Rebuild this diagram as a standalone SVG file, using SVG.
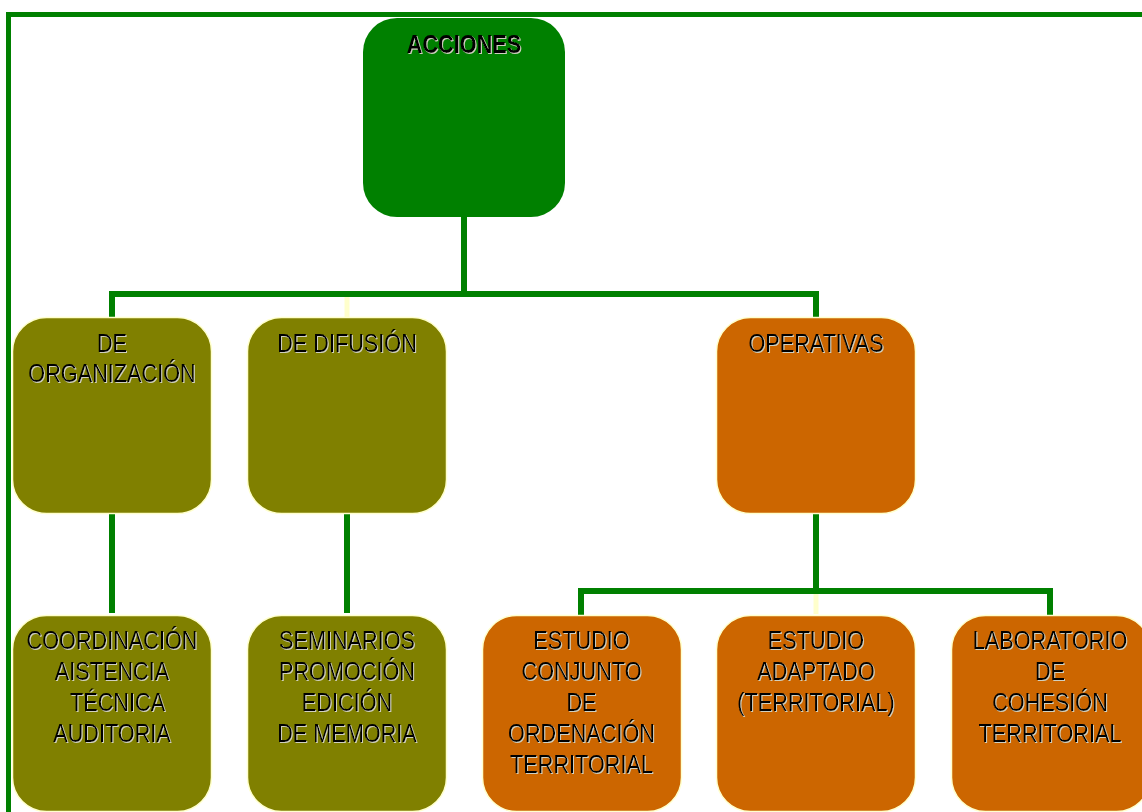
<svg xmlns="http://www.w3.org/2000/svg" width="1142" height="812" viewBox="0 0 1142 812">
<defs>
<style>
.frame{stroke:#008000;stroke-width:5;fill:none}
.conn{stroke:#008000;stroke-width:6;fill:none;stroke-linecap:butt;stroke-linejoin:miter}
.faint{stroke:#ffffcc;stroke-width:5;fill:none}
.green{fill:#008000}
.olive{fill:#808000;stroke:#ffffcc;stroke-width:1.5}
.orange{fill:#cc6600;stroke:#ffffcc;stroke-width:1.5}
text{font-family:"Liberation Sans",Arial,sans-serif;font-size:25.5px;fill:#000;text-anchor:middle;filter:url(#sh)}
.b{font-weight:bold}
</style>
<filter id="sh" x="-10%" y="-20%" width="120%" height="140%">
<feFlood flood-color="#d0d0c0" result="c"/>
<feComposite in="c" in2="SourceAlpha" operator="in" result="s"/>
<feOffset in="s" dx="1.2" dy="1.2" result="o"/>
<feMerge><feMergeNode in="o"/><feMergeNode in="SourceGraphic"/></feMerge>
</filter>
</defs>
<rect width="1142" height="812" fill="#ffffff"/>
<g id="frame">
<path class="frame" d="M8.5 812 V14.5 H1142"/>
</g>
<g id="connectors">
<path class="conn" d="M464 217 V294"/>
<path class="conn" d="M112 318 V294 H816 V318"/>
<path class="faint" d="M347 297 V317"/>
<path class="conn" d="M112 514 V613"/>
<path class="conn" d="M347 514 V613"/>
<path class="conn" d="M816 514 V591"/>
<path class="conn" d="M581 615 V591 H1050 V615"/>
<path class="faint" d="M816 594 V614"/>
</g>
<g id="acciones">
<rect class="green" x="363" y="18" width="202" height="199" rx="34"/>
<text class="b" transform="translate(464,0) scale(0.85,1)" x="0" y="53">ACCIONES</text>
</g>
<g id="organizacion">
<rect class="olive" x="12.5" y="317.5" width="199" height="196" rx="34"/>
<text transform="translate(112,0) scale(0.85,1)"><tspan x="0" y="352">DE</tspan><tspan x="0" y="382">ORGANIZACIÓN</tspan></text>
</g>
<g id="difusion">
<rect class="olive" x="247.5" y="317.5" width="199" height="196" rx="34"/>
<text transform="translate(347,0) scale(0.85,1)" x="0" y="352">DE DIFUSIÓN</text>
</g>
<g id="operativas">
<rect class="orange" x="716.5" y="317.5" width="199" height="196" rx="34"/>
<text transform="translate(816,0) scale(0.85,1)" x="0" y="352">OPERATIVAS</text>
</g>
<g id="coordinacion">
<rect class="olive" x="12.5" y="615.5" width="199" height="196" rx="34"/>
<text transform="translate(112,0) scale(0.85,1)"><tspan x="0" y="649">COORDINACIÓN</tspan><tspan x="0" y="680">AISTENCIA</tspan><tspan x="6.5" y="711">TÉCNICA</tspan><tspan x="0" y="742">AUDITORIA</tspan></text>
</g>
<g id="seminarios">
<rect class="olive" x="247.5" y="615.5" width="199" height="196" rx="34"/>
<text transform="translate(347,0) scale(0.85,1)"><tspan x="0" y="649">SEMINARIOS</tspan><tspan x="0" y="680">PROMOCIÓN</tspan><tspan x="0" y="711">EDICIÓN</tspan><tspan x="0" y="742">DE MEMORIA</tspan></text>
</g>
<g id="estudio-conjunto">
<rect class="orange" x="482.5" y="615.5" width="199" height="196" rx="34"/>
<text transform="translate(581.5,0) scale(0.85,1)"><tspan x="0" y="649">ESTUDIO</tspan><tspan x="0" y="680">CONJUNTO</tspan><tspan x="0" y="711">DE</tspan><tspan x="0" y="742">ORDENACIÓN</tspan><tspan x="0" y="773">TERRITORIAL</tspan></text>
</g>
<g id="estudio-adaptado">
<rect class="orange" x="716.5" y="615.5" width="199" height="196" rx="34"/>
<text transform="translate(816,0) scale(0.85,1)"><tspan x="0" y="649">ESTUDIO</tspan><tspan x="0" y="680">ADAPTADO</tspan><tspan x="0" y="711">(TERRITORIAL)</tspan></text>
</g>
<g id="laboratorio">
<rect class="orange" x="951.5" y="615.5" width="199" height="196" rx="34"/>
<text transform="translate(1050,0) scale(0.85,1)"><tspan x="0" y="649">LABORATORIO</tspan><tspan x="0" y="680">DE</tspan><tspan x="0" y="711">COHESIÓN</tspan><tspan x="0" y="742">TERRITORIAL</tspan></text>
</g>
</svg>
